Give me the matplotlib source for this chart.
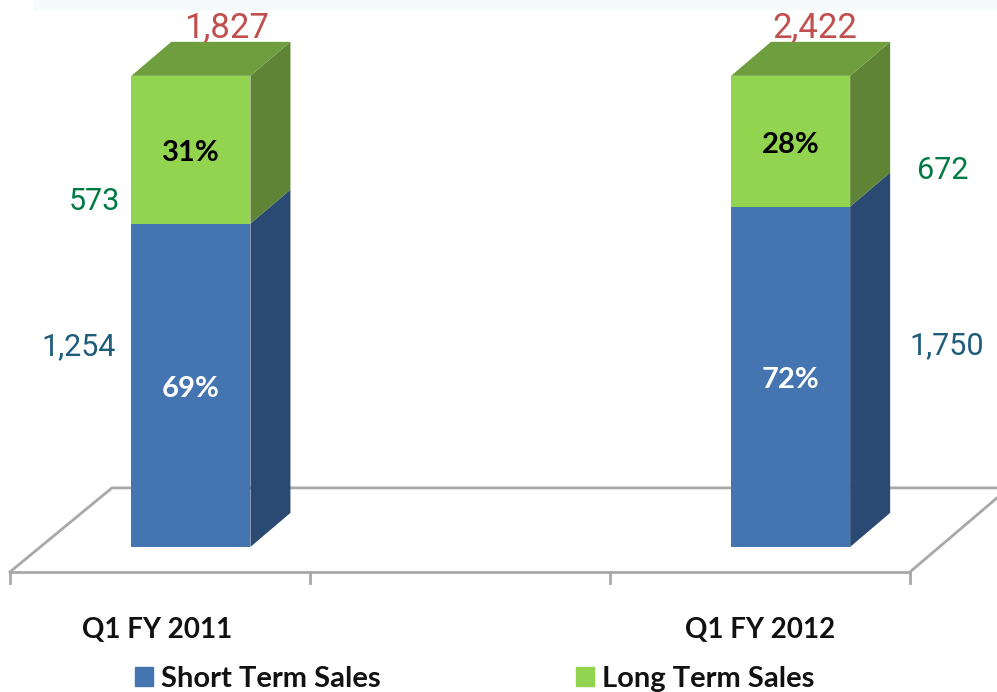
import matplotlib
matplotlib.use('Agg')
from matplotlib import pyplot as plt
from matplotlib.patches import Patch
import numpy as np

categories = ['Q1 FY 2011', '', 'Q1 FY 2012']
short_term = [1254, 1750]
long_term = [573, 672]
totals = [1827, 2422]
short_pct_labels = ['69%', '72%']
long_pct_labels = ['31%', '28%']

BLUE, BLUE_SIDE = '#4475B1', '#2B4A73'
GREEN, GREEN_SIDE, GREEN_TOP = '#92D350', '#5F8435', '#6F9E3E'
GRAY = '#A8A8A8'
NUM_FONT = 'Roboto'
CAT_FONT = 'Lato'

fig = plt.figure(figsize=(9.97, 6.92), dpi=100)
ax = fig.add_axes([0, 0, 1, 1])
ax.set_xlim(-0.5333, 2.79)
ax.set_ylim(-30.8, 116.1)
ax.axis('off')

# faint band along the top of the picture
ax.fill_between([-0.42, 2.79], 113.8, 116.1, color='#F6FAFA', lw=0, zorder=0)

# floor of the 3d plot
floor_y, back_y, tick_y = -5.31, 12.53, -7.64
ax.plot([-0.5, 2.5], [floor_y, floor_y], color=GRAY, lw=2, zorder=1)
ax.plot([-0.5, -0.16, 2.79], [floor_y, back_y, back_y], color=GRAY, lw=2, zorder=1)
ax.plot([2.5, 2.79], [floor_y, 10.4], color=GRAY, lw=2, zorder=1)
for t in [-0.5, 0.5, 1.5, 2.5]:
    ax.plot([t, t], [floor_y, tick_y], color=GRAY, lw=2, zorder=1)

bar_x = np.array([0.103, 2.102])
bar_w = 0.397
dx, dy = 0.1333, 7.22

short_arr = np.array(short_term, dtype=float)
long_arr = np.array(long_term, dtype=float)
short_pct = 100 * short_arr / (short_arr + long_arr)
long_pct = 100 * long_arr / (short_arr + long_arr)

ax.bar(bar_x, short_pct, width=bar_w, color=BLUE, zorder=3)
ax.bar(bar_x, long_pct, width=bar_w, bottom=short_pct, color=GREEN, zorder=3)

for i in range(2):
    r = bar_x[i] + bar_w / 2
    l = bar_x[i] - bar_w / 2
    s = short_pct[i]
    ax.fill([r, r + dx, r + dx, r], [0, dy, s + dy, s], color=BLUE_SIDE, lw=0, zorder=2.5)
    ax.fill([r, r + dx, r + dx, r], [s, s + dy, 100 + dy, 100], color=GREEN_SIDE, lw=0, zorder=2.5)
    ax.fill([l, l + dx, r + dx, r], [100, 100 + dy, 100 + dy, 100], color=GREEN_TOP, lw=0, zorder=2.5)
    ax.text(bar_x[i], s / 2 - 0.8, short_pct_labels[i], color='white', fontsize=21, fontweight='bold',
            family=CAT_FONT, ha='center', va='center', zorder=4)
    ax.text(bar_x[i], s + long_pct[i] / 2 - 0.8, long_pct_labels[i], color='black', fontsize=21, fontweight='bold',
            family=CAT_FONT, ha='center', va='center', zorder=4)

# value labels around the bars
total_x = [0.223, 2.183]
for x, v in zip(total_x, totals):
    ax.text(x, 110.2, f'{v:,}', color='#C0504D', fontsize=25, family=NUM_FONT, ha='center', va='center')
ax.text(-0.217, 73.3, str(long_term[0]), color='#007A45', fontsize=22, family=NUM_FONT, ha='center', va='center')
ax.text(2.61, 79.9, str(long_term[1]), color='#007A45', fontsize=22, family=NUM_FONT, ha='center', va='center')
ax.text(-0.27, 42.6, f'{short_term[0]:,}', color='#1F5C7A', fontsize=22, family=NUM_FONT, ha='center', va='center')
ax.text(2.623, 42.8, f'{short_term[1]:,}', color='#1F5C7A', fontsize=22, family=NUM_FONT, ha='center', va='center')

cat_x = [-0.01, 1, 2]
for x, c in zip(cat_x, categories):
    ax.text(x, -17.6, c, color='#111111', fontsize=20, fontweight='bold', family=CAT_FONT, ha='center', va='center')

handles = [Patch(color=BLUE, label='Short Term Sales'), Patch(color=GREEN, label='Long Term Sales')]
leg = ax.legend(handles=handles, ncol=2, loc='center left', bbox_to_anchor=(0.1354, 0.0195), frameon=False,
                handlelength=0.62, handleheight=0.62, handletextpad=0.27, columnspacing=6.7, borderpad=0,
                borderaxespad=0, prop={'family': CAT_FONT, 'weight': 'bold', 'size': 21})
for t in leg.get_texts():
    t.set_color('#111111')

plt.savefig('out.png', dpi=100)
